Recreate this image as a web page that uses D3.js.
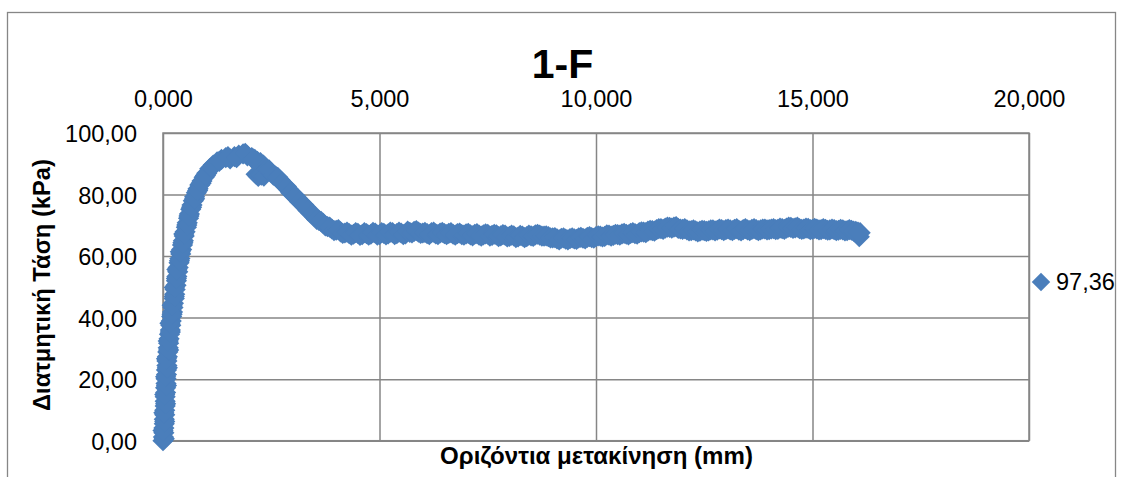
<!DOCTYPE html>
<html>
<head>
<meta charset="utf-8">
<script src="https://cdn.jsdelivr.net/npm/d3@7"></script>
<style>
  html, body { margin: 0; padding: 0; background: #ffffff; }
  svg { display: block; font-family: "Liberation Sans", Arial, sans-serif; }
</style>
</head>
<body>
<svg id="chart" width="1123" height="477"></svg>
<script>
// Shear test 1-F: horizontal displacement (mm) vs shear stress (kPa)
const chartTitle = "1-F";
const xAxisTitle = "Οριζόντια μετακίνηση (mm)";
const yAxisTitle = "Διατμητική Τάση (kPa)";
const seriesName = "97,36";

const xTicks = [0, 5, 10, 15, 20];
const yTicks = [0, 20, 40, 60, 80, 100];

// horizontal displacement, mm
const displacement = [
  // loading branch and peak
  0.00, 0.01, 0.02, 0.02, 0.03, 0.03, 0.04, 0.04, 0.05, 0.05,
  0.05, 0.06, 0.06, 0.07, 0.07, 0.08, 0.08, 0.09, 0.09, 0.10,
  0.11, 0.12, 0.13, 0.14, 0.15, 0.17, 0.18, 0.19, 0.20, 0.22,
  0.23, 0.24, 0.26, 0.27, 0.28, 0.30, 0.31, 0.32, 0.34, 0.35,
  0.37, 0.39, 0.41, 0.43, 0.45, 0.47, 0.49, 0.51, 0.54, 0.56,
  0.59, 0.61, 0.64, 0.67, 0.70, 0.73, 0.77, 0.81, 0.85, 0.90,
  0.95, 1.01, 1.08, 1.16, 1.25, 1.35, 1.45, 1.55, 1.65, 1.75,
  1.85, 1.95, 2.05, 2.12, 2.18, 2.25, 2.32, 2.15, 2.20, 2.27,
  2.33,
  // softening and residual branch
  2.40, 2.50, 2.60, 2.70, 2.80, 2.90, 3.00, 3.10, 3.20, 3.30,
  3.40, 3.50, 3.60, 3.70, 3.80, 3.90, 4.00, 4.10, 4.20, 4.30,
  4.40, 4.50, 4.60, 4.70, 4.80, 4.90, 5.00, 5.10, 5.20, 5.30,
  5.40, 5.50, 5.60, 5.70, 5.80, 5.90, 6.00, 6.10, 6.20, 6.30,
  6.40, 6.50, 6.60, 6.70, 6.80, 6.90, 7.00, 7.10, 7.20, 7.30,
  7.40, 7.50, 7.60, 7.70, 7.80, 7.90, 8.00, 8.10, 8.20, 8.30,
  8.40, 8.50, 8.60, 8.70, 8.80, 8.90, 9.00, 9.10, 9.20, 9.30,
  9.40, 9.50, 9.60, 9.70, 9.80, 9.90, 10.00, 10.10, 10.20, 10.30,
  10.40, 10.50, 10.60, 10.70, 10.80, 10.90, 11.00, 11.10, 11.20, 11.30,
  11.40, 11.50, 11.60, 11.70, 11.80, 11.90, 12.00, 12.10, 12.20, 12.30,
  12.40, 12.50, 12.60, 12.70, 12.80, 12.90, 13.00, 13.10, 13.20, 13.30,
  13.40, 13.50, 13.60, 13.70, 13.80, 13.90, 14.00, 14.10, 14.20, 14.30,
  14.40, 14.50, 14.60, 14.70, 14.80, 14.90, 15.00, 15.10, 15.20, 15.30,
  15.40, 15.50, 15.60, 15.70, 15.80, 15.90, 16.00, 16.08, 16.10,
  // intermediate readings, loading branch
  0.03, 0.00, 0.04, 0.02, 0.06, 0.04, 0.08, 0.06, 0.10, 0.08,
  0.13, 0.12, 0.17, 0.16, 0.21, 0.21, 0.26, 0.26, 0.31, 0.32,
  0.38, 0.40, 0.46, 0.48, 0.55, 0.60, 0.66, 0.73, 0.80, 0.88,
  0.98, 1.12, 1.30, 1.50, 1.70, 1.90, 2.08,
  // intermediate readings, softening and residual branch
  2.45, 2.55, 2.65, 2.75, 2.85, 2.95, 3.05, 3.15, 3.25, 3.35,
  3.45, 3.55, 3.65, 3.75, 3.85, 3.95, 4.05, 4.15, 4.25, 4.35,
  4.45, 4.55, 4.65, 4.75, 4.85, 4.95, 5.05, 5.15, 5.25, 5.35,
  5.45, 5.55, 5.65, 5.75, 5.85, 5.95, 6.05, 6.15, 6.25, 6.35,
  6.45, 6.55, 6.65, 6.75, 6.85, 6.95, 7.05, 7.15, 7.25, 7.35,
  7.45, 7.55, 7.65, 7.75, 7.85, 7.95, 8.05, 8.15, 8.25, 8.35,
  8.45, 8.55, 8.65, 8.75, 8.85, 8.95, 9.05, 9.15, 9.25, 9.35,
  9.45, 9.55, 9.65, 9.75, 9.85, 9.95, 10.05, 10.15, 10.25, 10.35,
  10.45, 10.55, 10.65, 10.75, 10.85, 10.95, 11.05, 11.15, 11.25, 11.35,
  11.45, 11.55, 11.65, 11.75, 11.85, 11.95, 12.05, 12.15, 12.25, 12.35,
  12.45, 12.55, 12.65, 12.75, 12.85, 12.95, 13.05, 13.15, 13.25, 13.35,
  13.45, 13.55, 13.65, 13.75, 13.85, 13.95, 14.05, 14.15, 14.25, 14.35,
  14.45, 14.55, 14.65, 14.75, 14.85, 14.95, 15.05, 15.15, 15.25, 15.35,
  15.45, 15.55, 15.65, 15.75, 15.85, 15.95, 16.05
];

// shear stress, kPa
const shearStress = [
  // loading branch and peak
  0.0, 1.2, 2.6, 4.1, 5.5, 7.0, 8.4, 9.9, 11.3, 12.8,
  14.3, 15.7, 17.2, 18.6, 20.1, 21.5, 23.0, 24.4, 25.9, 27.3,
  28.8, 30.2, 31.7, 33.1, 34.6, 36.0, 37.5, 38.9, 40.4, 41.8,
  43.3, 44.7, 46.2, 47.6, 49.1, 50.5, 52.0, 53.4, 54.9, 56.3,
  57.8, 59.2, 60.7, 62.1, 63.6, 65.0, 66.5, 67.9, 69.4, 70.8,
  72.3, 73.7, 75.2, 76.6, 78.0, 79.3, 80.6, 81.9, 83.1, 84.4,
  85.6, 86.9, 88.4, 89.6, 90.6, 91.4, 92.0, 91.6, 92.3, 92.8,
  93.2, 92.6, 92.0, 91.4, 90.8, 90.4, 89.6, 86.6, 85.9, 86.3,
  86.0,
  // softening and residual branch
  88.2, 87.1, 86.0, 84.7, 83.2, 81.6, 80.1, 78.7, 77.2, 75.8,
  74.2, 72.8, 71.6, 70.6, 69.6, 68.8, 68.4, 67.9, 67.5, 67.3,
  67.1, 67.4, 67.0, 67.3, 67.1, 67.5, 67.0, 67.4, 67.2, 67.6,
  67.3, 67.5, 67.2, 67.7, 68.0, 67.8, 67.5, 67.3, 67.6, 67.2,
  67.5, 67.3, 67.4, 67.1, 67.3, 67.0, 67.2, 66.9, 67.1, 66.8,
  66.9, 67.1, 66.7, 66.9, 66.6, 66.8, 66.4, 66.6, 66.2, 66.5,
  66.3, 66.6, 66.9, 66.8, 66.5, 66.3, 65.9, 65.6, 65.8, 65.5,
  65.7, 65.6, 65.9, 65.8, 66.1, 66.0, 66.3, 66.5, 66.4, 66.8,
  66.7, 67.0, 67.2, 67.1, 67.4, 67.3, 67.6, 67.8, 68.1, 68.3,
  68.6, 68.9, 69.1, 69.3, 69.4, 69.0, 68.7, 68.5, 68.3, 68.2,
  68.1, 68.3, 68.2, 68.5, 68.4, 68.6, 68.6, 68.5, 68.7, 68.4,
  68.6, 68.5, 68.7, 68.6, 68.5, 68.8, 68.6, 68.9, 68.7, 68.9,
  69.1, 69.3, 69.2, 68.9, 68.8, 69.0, 68.7, 68.8, 68.6, 68.7,
  68.5, 68.6, 68.4, 68.5, 68.3, 68.4, 68.0, 66.3, 67.6,
  // intermediate readings, loading branch
  0.6, 3.3, 6.2, 9.1, 12.0, 15.0, 17.9, 20.8, 23.7, 26.6,
  29.5, 32.4, 35.3, 38.2, 41.1, 44.0, 46.9, 49.8, 52.7, 55.6,
  58.5, 61.4, 64.3, 67.2, 70.1, 73.0, 75.9, 78.6, 81.3, 83.7,
  86.2, 88.8, 90.8, 92.3, 92.0, 93.4, 91.6,
  // intermediate readings, softening and residual branch
  88.0, 86.3, 85.6, 83.7, 82.6, 80.6, 79.6, 77.7, 76.7, 74.8,
  73.8, 71.9, 71.3, 69.8, 69.4, 68.3, 68.6, 67.4, 67.8, 66.8,
  67.6, 66.7, 67.6, 66.8, 67.7, 66.8, 67.6, 66.9, 67.8, 67.0,
  67.8, 67.0, 68.1, 67.5, 68.3, 67.4, 67.7, 67.0, 67.8, 67.0,
  67.7, 67.0, 67.6, 66.8, 67.5, 66.8, 67.4, 66.6, 67.3, 66.5,
  67.2, 66.5, 67.1, 66.3, 67.0, 66.2, 66.8, 66.0, 66.7, 66.0,
  66.8, 66.4, 67.1, 66.5, 66.6, 65.9, 66.0, 65.3, 65.9, 65.3,
  65.9, 65.4, 66.1, 65.6, 66.3, 65.8, 66.6, 66.2, 66.9, 66.5,
  67.1, 66.8, 67.4, 66.9, 67.6, 67.1, 67.9, 67.6, 68.4, 68.1,
  68.9, 68.7, 69.4, 69.1, 69.6, 68.8, 68.9, 68.2, 68.5, 67.9,
  68.4, 68.0, 68.5, 68.2, 68.8, 68.3, 68.8, 68.3, 68.9, 68.2,
  68.9, 68.3, 68.9, 68.3, 68.8, 68.5, 68.8, 68.6, 69.1, 68.7,
  69.4, 69.0, 69.4, 68.7, 69.1, 68.6, 69.0, 68.5, 68.9, 68.4,
  68.8, 68.3, 68.7, 68.2, 68.6, 68.1, 67.8
];

const points = displacement.map((d, i) => ({ x: d, y: shearStress[i] }))
  .filter(p => Number.isFinite(p.x) && Number.isFinite(p.y));

const plot = { left: 163, right: 1029, top: 133, bottom: 440.7 };
const gridColor = "#868686";
const markerColor = "#4A7EBB";
const fontSize = 23.5;

const locale = d3.formatLocale({ decimal: ",", thousands: ".", grouping: [3], currency: ["", "€"] });
const fmtX = locale.format(".3f");
const fmtY = locale.format(".2f");

const x = d3.scaleLinear().domain([0, 20]).range([plot.left, plot.right]);
const y = d3.scaleLinear().domain([0, 100]).range([plot.bottom, plot.top]);

const svg = d3.select("#chart");

// chart frame
svg.append("rect")
  .attr("x", 7.5).attr("y", 12.5)
  .attr("width", 1108).attr("height", 500)
  .attr("fill", "#ffffff")
  .attr("stroke", gridColor).attr("stroke-width", 1.3);

// gridlines
const gridY = svg.append("g")
  .attr("transform", `translate(${plot.left},0)`)
  .call(d3.axisLeft(y).tickValues(yTicks).tickSize(-(plot.right - plot.left)).tickFormat(""));
gridY.select(".domain").remove();
gridY.selectAll("line").attr("stroke", gridColor).attr("stroke-width", 1.5);

const gridX = svg.append("g")
  .attr("transform", `translate(0,${plot.bottom})`)
  .call(d3.axisBottom(x).tickValues(xTicks).tickSize(-(plot.bottom - plot.top)).tickFormat(""));
gridX.select(".domain").remove();
gridX.selectAll("line").attr("stroke", gridColor).attr("stroke-width", 1.5);

// plot-area border
svg.append("rect")
  .attr("x", plot.left).attr("y", plot.top)
  .attr("width", plot.right - plot.left).attr("height", plot.bottom - plot.top)
  .attr("fill", "none").attr("stroke", gridColor).attr("stroke-width", 1.5);

// axis labels (x along the top edge, y on the left)
const axTop = svg.append("g")
  .attr("transform", `translate(0,${plot.top})`)
  .call(d3.axisTop(x).tickValues(xTicks).tickSize(0).tickPadding(26).tickFormat(fmtX));
axTop.select(".domain").remove();
axTop.selectAll("text")
  .attr("font-family", "Liberation Sans, Arial, sans-serif")
  .attr("font-size", fontSize).attr("fill", "#000");

const axLeft = svg.append("g")
  .attr("transform", `translate(${plot.left},0)`)
  .call(d3.axisLeft(y).tickValues(yTicks).tickSize(0).tickPadding(26).tickFormat(fmtY));
axLeft.select(".domain").remove();
axLeft.selectAll("text")
  .attr("font-family", "Liberation Sans, Arial, sans-serif")
  .attr("font-size", fontSize).attr("dy", "0.36em").attr("fill", "#000");

// data markers: diamonds (squares turned 45°)
const diamond = d3.symbol().type(d3.symbolSquare).size(225);
svg.append("g")
  .selectAll("path")
  .data(points)
  .join("path")
  .attr("d", diamond)
  .attr("transform", d => `translate(${x(d.x)},${y(d.y)}) rotate(45)`)
  .attr("fill", markerColor);

// title
svg.append("text")
  .attr("x", 562.5).attr("y", 78)
  .attr("text-anchor", "middle")
  .attr("font-weight", "bold").attr("font-size", 41)
  .text(chartTitle);

// fits a bold label to a given length
function fitText(sel, target) {
  const len = sel.node().getComputedTextLength();
  const fs = parseFloat(sel.attr("font-size"));
  sel.attr("font-size", (fs * target / len).toFixed(2));
}

const xt = svg.append("text")
  .attr("x", 596.5).attr("y", 464)
  .attr("text-anchor", "middle")
  .attr("font-weight", "bold").attr("font-size", 20)
  .text(xAxisTitle);
fitText(xt, 313);

const yt = svg.append("text")
  .attr("transform", `translate(50,285) rotate(-90)`)
  .attr("text-anchor", "middle")
  .attr("font-weight", "bold").attr("font-size", 20)
  .text(yAxisTitle);
fitText(yt, 252);

// legend
const legendDiamond = d3.symbol().type(d3.symbolSquare).size(170);
const legend = svg.append("g").attr("transform", "translate(1041,282)");
legend.append("path")
  .attr("d", legendDiamond)
  .attr("transform", "rotate(45)")
  .attr("fill", markerColor);
legend.append("text")
  .attr("x", 15).attr("y", 0).attr("dy", "0.36em")
  .attr("font-size", fontSize).attr("fill", "#000")
  .text(seriesName);
</script>
</body>
</html>
